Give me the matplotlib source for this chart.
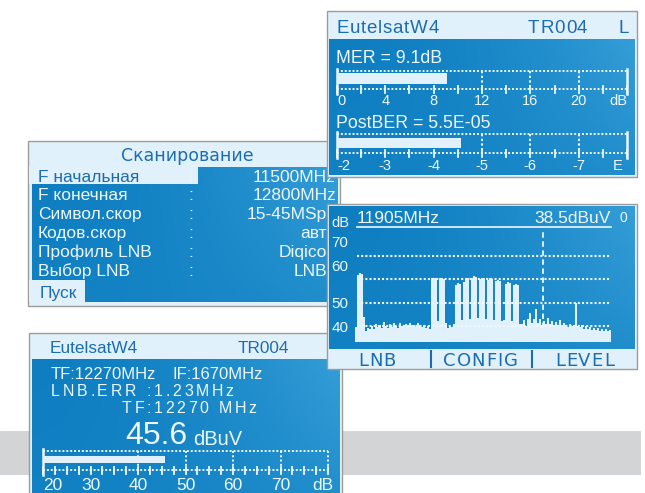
import numpy as np
import matplotlib.pyplot as plt
from matplotlib.patches import Rectangle

# ---- readings taken off the four device screens ----
mer_db = 9.1
mer_ticks = [0, 4, 8, 12, 16, 20]
postber = 5.5e-05
postber_bar_exp = -4.57          # where the PostBER bar ends on the exponent scale
postber_ticks = [-2, -3, -4, -5, -6, -7]

level_dbuv = 45.6
level_ticks = [20, 30, 40, 50, 60, 70]
tf_mhz = 12270
if_mhz = 1670
lnb_err_mhz = 1.23

spec_start_mhz = 10950
spec_stop_mhz = 12250
marker_mhz = 11905
marker_dbuv = 38.5
spec_grid_db = [40, 50, 60, 70]
spec_level_db = [
    39.5, 61.8, 62.6, 62.2, 44.0,
    38.0, 39.2, 38.6, 40.1, 38.9, 41.0, 39.4, 40.3, 39.0, 41.6, 39.8,
    39.2, 40.7, 39.7, 41.2, 40.0, 39.3, 41.4, 40.2, 39.6, 40.8, 39.5,
    41.1, 40.0, 40.6, 39.7, 41.5, 40.3, 39.6, 40.5, 39.2, 39.9, 38.7,
    60.4, 60.8, 60.5, 42.0, 60.6, 60.7, 60.2, 41.5, 39.0, 40.2, 39.5, 41.0,
    57.6, 58.3, 58.0, 42.5,
    59.0, 60.4, 60.6, 43.0,
    60.8, 61.4, 61.2, 43.5,
    60.0, 60.7, 60.5, 43.0,
    59.6, 60.4, 60.2, 42.5,
    59.2, 59.8, 59.5, 42.0, 42.5,
    58.2, 58.7, 58.5, 42.0,
    57.5, 57.9, 57.6, 41.0,
    41.0, 42.5, 40.2, 43.0, 45.5, 41.2, 42.8, 47.5, 41.5, 43.2, 40.6,
    42.0, 40.8, 43.5, 41.0, 42.2, 40.4, 41.6, 40.0, 42.4, 39.8, 41.2,
    40.3, 39.6, 41.0, 39.9, 40.6, 49.7, 40.2, 39.4, 40.5, 38.9, 39.8,
    38.6, 39.5, 38.4, 39.3, 38.2, 39.0, 38.0, 38.8, 37.9, 38.6, 38.0, 38.4,
]

scan_title = 'Сканирование'
scan_labels = ['F начальная', 'F конечная', 'Символ.скор', 'Кодов.скор', 'Профиль LNB', 'Выбор LNB']
# only the part of each value that panel 2 leaves visible
scan_values = ['11500MHz', '12800MHz', '15-45MSp', 'авт', 'Diqico', 'LNB']

# ---- colours ----
LIGHT = '#e1f1fb'
TXT = '#eef7fd'
HDR = '#1b6db1'
EDGE = '#9c9c9c'
DARK = np.array([9, 122, 190]) / 255
BRIGHT = np.array([60, 164, 220]) / 255

plt.rcParams['font.family'] = ['Liberation Sans', 'DejaVu Sans']

W, H = 645, 493
fig = plt.figure(figsize=(W / 100, H / 100), dpi=100)
ax = fig.add_axes([0, 0, 1, 1])
ax.axis('off')
renderer = fig.canvas.get_renderer()


def px_axes(x0, y0, x1, y1):
    a = fig.add_axes([x0 / W, 1 - y1 / H, (x1 - x0) / W, (y1 - y0) / H])
    a.axis('off')
    return a


def spaced(x, y, s, gap, size, color, z, family=None):
    # letter-spaced text, one glyph at a time
    for ch in s:
        if ch == ' ':
            x += size * 0.3 * 100 / 72 + gap
            continue
        t = ax.text(x, y, ch, ha='left', va='baseline', size=size, color=color, zorder=z,
                    family=family)
        x += t.get_window_extent(renderer=renderer).width + gap


def body(x0, y0, x1, y1, z):
    xf = np.linspace(0, 1, 160)[None, :]
    yf = np.linspace(0, 1, 80)[:, None]
    t = np.clip(0.1 + 0.75 * xf ** 1.8 * (1 - 0.6 * yf) + 0.08 * yf, 0, 1)
    img = DARK + t[..., None] * (BRIGHT - DARK)
    ax.imshow(img, extent=(x0, x1, y1, y0), origin='upper', aspect='auto',
              interpolation='bilinear', zorder=z)


def frame(x0, y0, x1, y1, z):
    ax.add_patch(Rectangle((x0, y0), x1 - x0, y1 - y0, facecolor=LIGHT, edgecolor=EDGE,
                           lw=1.0, zorder=z))


def label(x, y, s, size, color=TXT, ha='left', z=3, **kw):
    return ax.text(x, y, s, ha=ha, va='baseline', size=size, color=color, zorder=z, **kw)


def meter(box, lo, hi, start, stop, bar_span, minor, majors, major_ls, labels, unit,
          unit_pos, label_y, label_size=10.5, right_solid=True):
    m = px_axes(*box)
    m.set_xlim(lo, hi)
    m.set_ylim(0, 1)
    dot = dict(color=TXT, lw=1.4, linestyle=(0, (1, 1)), clip_on=False)
    m.plot([lo, hi], [1, 1], **dot)
    m.plot([lo, hi], [0, 0], **dot)
    for v in np.arange(lo, hi + minor / 2, minor):
        m.plot([v, v], [0.15, -0.2], color=TXT, lw=1.3, clip_on=False)
    for v in majors:
        m.plot([v, v], [1, 0], color=TXT, lw=1.4, linestyle=major_ls, clip_on=False)
    m.plot([lo, lo], [1.12, -0.25], color=TXT, lw=1.8, clip_on=False)
    if right_solid:
        m.plot([hi, hi], [1.12, -0.25], color=TXT, lw=1.8, clip_on=False)
    m.barh((bar_span[0] + bar_span[1]) / 2, stop - start, left=start,
           height=bar_span[1] - bar_span[0], color=LIGHT, zorder=5)
    tr = m.get_xaxis_transform()
    for i, (v, s) in enumerate(labels):
        m.text(v, label_y, s, ha='left' if i == 0 else 'center', va='baseline',
               size=label_size, color=TXT, transform=tr, clip_on=False)
    m.text(unit_pos, label_y, unit, ha='center', va='baseline', size=label_size, color=TXT,
           transform=tr, clip_on=False)
    return m


# grey band behind everything
ax.add_patch(Rectangle((0, 431), 641, 44, facecolor='#d3d4d6', lw=0, zorder=0.5))

# ---- panel 3: scan settings (back) ----
frame(28, 141, 340, 306, 1)
body(32, 167, 338, 302, 1.5)
ax.add_patch(Rectangle((29, 166), 169, 18, facecolor=LIGHT, lw=0, zorder=2))
ax.add_patch(Rectangle((29, 280), 56, 22, facecolor=LIGHT, lw=0, zorder=2))
ax.text(187, 161, scan_title, ha='center', va='baseline', size=12.5, color=HDR,
        family='DejaVu Sans', zorder=3)
for i, (lab, val) in enumerate(zip(scan_labels, scan_values)):
    yb = 181.7 + i * 18.8
    c = HDR if i == 0 else TXT
    label(38, yb, lab, 12.5, color=c)
    label(191, yb, ':', 12.5, ha='center')
    label(336 if yb < 205 else 327, yb, val, 12.5, ha='right')
label(40, 298.3, 'Пуск', 12.5, color=HDR)

# ---- panel 4: level (back, bottom left) ----
frame(29, 333, 342, 510, 4)
body(32, 359, 340, 500, 4.5)
label(50, 353.3, 'EutelsatW4', 12.4, color=HDR, z=6)
label(238, 353.3, 'TR004', 12.4, color=HDR, z=6)
label(51, 379, f'TF:{tf_mhz}MHz', 12, z=6)
label(172, 379, f'IF:{if_mhz}MHz', 12, z=6)
spaced(51, 395.7, f'LNB.ERR :{lnb_err_mhz:.2f}MHz', 2.8, 11.4, TXT, 6)
spaced(122, 413.3, f'TF:{tf_mhz} MHz', 2.6, 11.5, TXT, 6)
label(125, 444.3, f'{level_dbuv:.1f}', 23, z=6)
label(193, 445, 'dBuV', 14.5, z=6)

# ---- panel 1: MER / PostBER ----
frame(327, 11, 637, 177, 7)
body(329, 39, 635, 175, 7.5)
spaced(336, 33, 'EutelsatW4', 0.8, 13.5, HDR, 9)
spaced(528, 33, 'TR004', 0.8, 13.5, HDR, 9)
label(618, 33, 'L', 13.5, color=HDR, z=9)
label(336, 63.3, f'MER = {mer_db:.1f}dB', 12.8, z=9)
label(336, 128, f'PostBER = {postber:.1E}', 12.8, z=9)

# ---- panel 2: spectrum (front) ----
frame(327, 204, 637, 369, 10)
body(329, 206, 635, 349, 10.5)
label(357, 223.3, f'{marker_mhz}MHz', 12.5, z=12)
label(611, 223.3, f'{marker_dbuv:.1f}dBuV', 12.5, ha='right', z=12)
label(340, 227.3, 'dB', 10.5, ha='center', z=12)
label(623, 221.7, '0', 10, ha='center', z=12)
ax.plot([357, 611], [227, 227], color=TXT, lw=1.2, zorder=12)
for s, yb in zip(['70', '60', '50', '40'], [247.3, 271, 308.3, 331.7]):
    label(340, yb, s, 11, ha='center', z=12)
spaced(358, 365.7, 'LNB', 1, 13, HDR, 12, family='DejaVu Sans')
spaced(443, 365.7, 'CONFIG', 1, 13, HDR, 12, family='DejaVu Sans')
spaced(555, 365.7, 'LEVEL', 1, 13, HDR, 12, family='DejaVu Sans')
for xs in (431, 532):
    ax.plot([xs, xs], [351, 367], color=HDR, lw=1.5, zorder=12)

ax.set_xlim(0, W)
ax.set_ylim(H, 0)

# meters
meter((337, 71, 627, 89), 0, 24, 0, mer_db, (0.28, 0.89), 2, [12, 16, 20],
      (0, (1.2, 1.2)), [(v, str(v)) for v in mer_ticks], 'dB', 23.3, -0.89)
meter((337, 134, 627, 153), -2, -8, -2, postber_bar_exp, (0.26, 0.79), -0.5, [-5, -6, -7],
      (0, (1.2, 1.2)), [(v, str(v)) for v in postber_ticks], 'E', -7.8, -0.87)
meter((43, 451, 328, 470), 20, 80, 20, level_dbuv, (0.37, 0.74), 2.5, [40, 50, 60, 70, 80],
      (0, (1, 1.2)), [(v, str(v)) for v in level_ticks], 'dB', 79, -1.05,
      label_size=12.5, right_solid=False)

# spectrum plot
db_lo = 40 - (342 - 326) / 2.33
db_hi = 40 + (326 - 230) / 2.33
sp = px_axes(355, 230, 611, 342)
sp.set_xlim(spec_start_mhz, spec_stop_mhz)
sp.set_ylim(db_lo, db_hi)
edges = np.linspace(spec_start_mhz, spec_stop_mhz, len(spec_level_db) + 1)
sp.stairs(spec_level_db, edges, baseline=db_lo, fill=True, color=LIGHT, lw=0)
for g in spec_grid_db:
    sp.plot([spec_start_mhz + 8, spec_stop_mhz], [g, g], color=TXT, lw=1.5,
            linestyle=(0, (1, 1)), zorder=3)
sp.plot([marker_mhz, marker_mhz], [39, 80.3], color=TXT, lw=1.3, linestyle=(0, (3, 2)),
        zorder=3)

fig.savefig('out.png', dpi=100)
